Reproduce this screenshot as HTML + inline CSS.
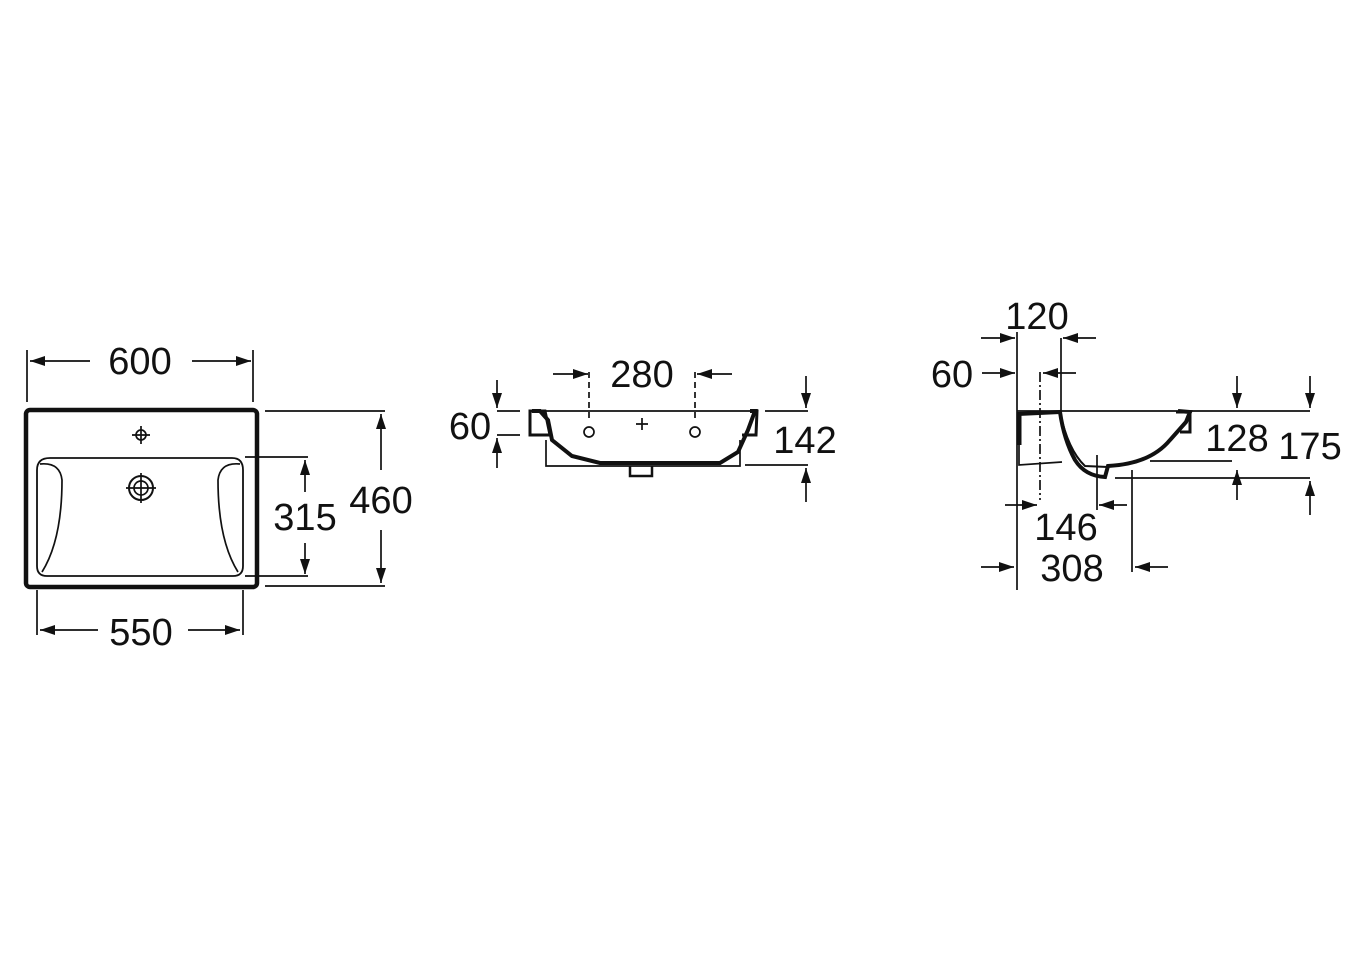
<!DOCTYPE html>
<html><head><meta charset="utf-8"><style>
html,body{margin:0;padding:0;background:#fff;}
svg{display:block}
text{font-family:"Liberation Sans",sans-serif;font-size:38px;fill:#111;text-anchor:middle}
</style></head><body>
<svg width="1356" height="955" viewBox="0 0 1356 955" xmlns="http://www.w3.org/2000/svg">
<defs>
<marker id="a" viewBox="0 0 15 10" refX="15" refY="5" markerWidth="15" markerHeight="10" markerUnits="userSpaceOnUse" orient="auto"><path d="M0,0 L15,5 L0,10 Z" fill="#111"/></marker>
</defs>
<g stroke="#111" stroke-width="1.7" fill="none">
<!-- LEFT VIEW -->
<rect x="26" y="410" width="231" height="177" rx="4" stroke-width="4.5"/>
<path d="M37,470 Q37,458 50,458 L232,458 Q243,458 243,470 L243,566 Q243,576 233,576 L47,576 Q37,576 37,566 Z" stroke-width="1.8"/>
<path d="M40,464 Q60,462 62,480 Q62,540 42,572" />
<path d="M240,464 Q220,462 218,480 Q218,540 238,572" />
<circle cx="141" cy="435" r="5"/><path d="M141,426V444M132,435H150"/>
<circle cx="141" cy="488" r="12" stroke-width="2"/><circle cx="141" cy="488" r="7"/><path d="M141,473V503M126,488H156"/>
<path d="M27,350V402M253,350V402"/>
<path d="M90,361H30" marker-end="url(#a)"/><path d="M192,361H251" marker-end="url(#a)"/>
<path d="M245,457H308M245,576H308"/>
<path d="M305,492V460" marker-end="url(#a)"/><path d="M305,543V574" marker-end="url(#a)"/>
<path d="M265,411H385M265,586H385"/>
<path d="M381,470V414" marker-end="url(#a)"/><path d="M381,530V583" marker-end="url(#a)"/>
<path d="M37,590V635M243,590V635"/>
<path d="M98,630H40" marker-end="url(#a)"/><path d="M188,630H240" marker-end="url(#a)"/>
<!-- MIDDLE VIEW -->
<path d="M530,411H750"/>
<path d="M532,411 L540,411 L548,420 L552,440 L572,456 L600,463 L720,463 L738,452 L748,430 L755,411 L750,411" stroke-width="4"/>
<path d="M530,411 L545,411 L550,435 L530,435 Z" stroke-width="3"/>
<path d="M750,411 L757,411 L756,435 L742,435" stroke-width="3"/>
<path d="M546,440V466H740V440"/>
<path d="M630,466V476H652V466" stroke-width="2.5"/>
<circle cx="589" cy="432" r="5"/><circle cx="695" cy="432" r="5"/>
<path d="M642,418V430M636,424H648"/>
<path d="M589,372V420M695,372V420" stroke-dasharray="6,4"/>
<path d="M553,374H588" marker-end="url(#a)"/><path d="M732,374H697" marker-end="url(#a)"/>
<path d="M497,411H520M497,435H520"/>
<path d="M497,380V408" marker-end="url(#a)"/><path d="M497,468V438" marker-end="url(#a)"/>
<path d="M765,411H808M745,465H808"/>
<path d="M806,376V408" marker-end="url(#a)"/><path d="M806,502V468" marker-end="url(#a)"/>
<!-- RIGHT VIEW -->
<path d="M1017,411H1310"/>
<path d="M1018,414 L1060,412 Q1064,440 1075,460 Q1085,476 1105,477 L1108,466 Q1150,464 1170,440 L1186,422 L1190,412 L1178,411" stroke-width="4"/>
<path d="M1060,412 Q1068,450 1085,466 L1108,467" stroke-width="2"/>
<path d="M1019,412V445" stroke-width="5"/>
<path d="M1019,445V465L1062,462"/>
<path d="M1176,412 L1190,412 L1190,432 L1180,432" stroke-width="3"/>
<path d="M1017,332V590M1061,338V410"/>
<path d="M1040,372V500" stroke-dasharray="10,3,2,3"/>
<path d="M1097,455V510M1132,470V572"/>
<path d="M981,338H1015" marker-end="url(#a)"/><path d="M1096,338H1063" marker-end="url(#a)"/>
<path d="M982,373H1015" marker-end="url(#a)"/><path d="M1076,373H1043" marker-end="url(#a)"/>
<path d="M1150,461H1232M1115,478H1310"/>
<path d="M1237,376V408" marker-end="url(#a)"/><path d="M1237,500V470" marker-end="url(#a)"/>
<path d="M1310,376V408" marker-end="url(#a)"/><path d="M1310,515V481" marker-end="url(#a)"/>
<path d="M1005,505H1037" marker-end="url(#a)"/><path d="M1127,505H1099" marker-end="url(#a)"/>
<path d="M981,567H1014" marker-end="url(#a)"/><path d="M1168,567H1135" marker-end="url(#a)"/>
</g>
<text x="140" y="374">600</text>
<text x="305" y="530">315</text>
<text x="381" y="513">460</text>
<text x="141" y="645">550</text>
<text x="642" y="387">280</text>
<text x="470" y="439">60</text>
<text x="805" y="453">142</text>
<text x="1037" y="329">120</text>
<text x="952" y="387">60</text>
<text x="1237" y="451">128</text>
<text x="1310" y="459">175</text>
<text x="1066" y="540">146</text>
<text x="1072" y="581">308</text>
</svg>
</body></html>
